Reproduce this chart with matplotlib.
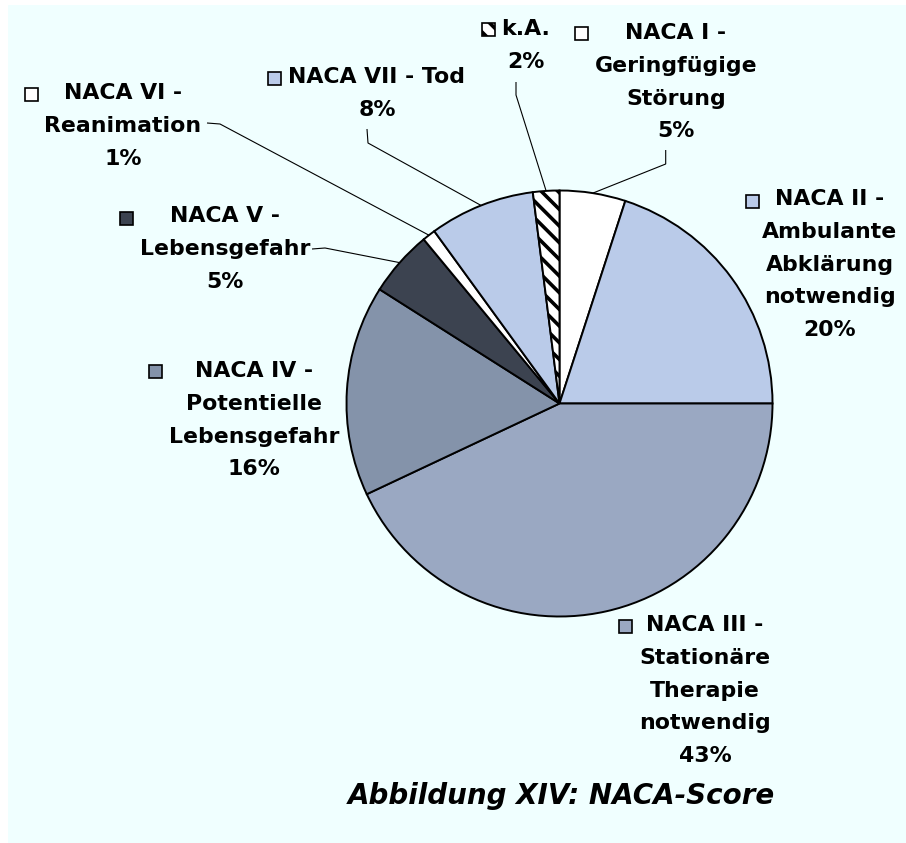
import matplotlib
matplotlib.use("Agg")
import matplotlib.pyplot as plt
from matplotlib.patches import Rectangle
import numpy as np

# ---- data ----
categories = ["NACA I - Geringfügige Störung",
              "NACA II - Ambulante Abklärung notwendig",
              "NACA III - Stationäre Therapie notwendig",
              "NACA IV - Potentielle Lebensgefahr",
              "NACA V - Lebensgefahr",
              "NACA VI - Reanimation",
              "NACA VII - Tod",
              "k.A."]
label_lines = [["NACA I -", "Geringfügige", "Störung"],
               ["NACA II -", "Ambulante", "Abklärung", "notwendig"],
               ["NACA III -", "Stationäre", "Therapie", "notwendig"],
               ["NACA IV -", "Potentielle", "Lebensgefahr"],
               ["NACA V -", "Lebensgefahr"],
               ["NACA VI -", "Reanimation"],
               ["NACA VII - Tod"],
               ["k.A."]]
values = [5, 20, 43, 16, 5, 1, 8, 2]
colors = ["#FFFFFF", "#BACBE9", "#9AA8C2", "#8493AA",
          "#3C4350", "#FFFFFF", "#BACBE9", "#FFFFFF"]
title = "Abbildung XIV: NACA-Score"

# ---- layout (pixel coordinates, y from top) ----
W, H = 906, 843
CX, CY, R = 559.5, 403.5, 213
# block center x, first line y, key center (x, y)
label_pos = [(676, 33, 581.5, 33.5),
             (830, 199, 752, 201),
             (705, 625, 625.5, 626),
             (254, 371, 155.5, 371),
             (225, 216, 126.5, 218),
             (123, 93, 31.5, 94),
             (377, 77, 274, 78),
             (526, 29, 488, 29.5)]
# leader lines: (start, elbow) or None
leaders = [((665.7, 150), (665.7, 164)),
           None, None, None,
           ((312, 249), (325, 248)),
           ((207, 123), (220, 124)),
           ((367, 129), (368, 143)),
           ((516, 82), (516, 95))]
LINE_STEP = 32.8

plt.rcParams['hatch.linewidth'] = 2.6
plt.rcParams['hatch.color'] = 'black'

def Y(y):
    return H - y

fig = plt.figure(figsize=(W / 100, H / 100), dpi=100, facecolor='white')
ax = fig.add_axes([0, 0, 1, 1])
ax.add_patch(Rectangle((8, 0), W - 8, H - 5, facecolor='#F0FFFF',
                       edgecolor='none', zorder=0))

wedges, _ = ax.pie(values, colors=colors, startangle=90, counterclock=False,
                   center=(CX, Y(CY)), radius=R, frame=False,
                   wedgeprops=dict(edgecolor='black', linewidth=1.4))
wedges[7].set_hatch('\\\\')

ax.set_xlim(0, W)
ax.set_ylim(0, H)
ax.set_aspect('auto')
ax.axis('off')

font = dict(family=['DejaVu Sans'], fontweight='bold',
            fontsize=15.8, color='black')

for i, (lines, val) in enumerate(zip(label_lines, values)):
    cx, y0, kx, ky = label_pos[i]
    all_lines = lines + [f"{val}%"]
    for j, ln in enumerate(all_lines):
        ax.text(cx, Y(y0 + j * LINE_STEP), ln, ha='center', va='center',
                zorder=5, **font)
    key = Rectangle((kx - 6.5, Y(ky) - 6.5), 13, 13, facecolor=colors[i],
                    edgecolor='black', linewidth=1.2, zorder=5)
    if i == 7:
        key.set_hatch('\\\\')
    ax.add_patch(key)
    if leaders[i] is not None:
        w = wedges[i]
        tm = np.deg2rad((w.theta1 + w.theta2) / 2)
        ex, ey = CX + R * np.cos(tm), Y(CY) + R * np.sin(tm)
        (sx, sy), (bx, by) = leaders[i]
        ax.plot([sx, bx, ex], [Y(sy), Y(by), ey], color='black',
                linewidth=0.8, zorder=4, solid_capstyle='butt')

ax.text(561, Y(796), title, ha='center', va='center', fontsize=20,
        fontweight='bold', fontstyle='oblique',
        family=['DejaVu Sans'], color='black')

fig.savefig("out.png", dpi=100, facecolor=fig.get_facecolor())
